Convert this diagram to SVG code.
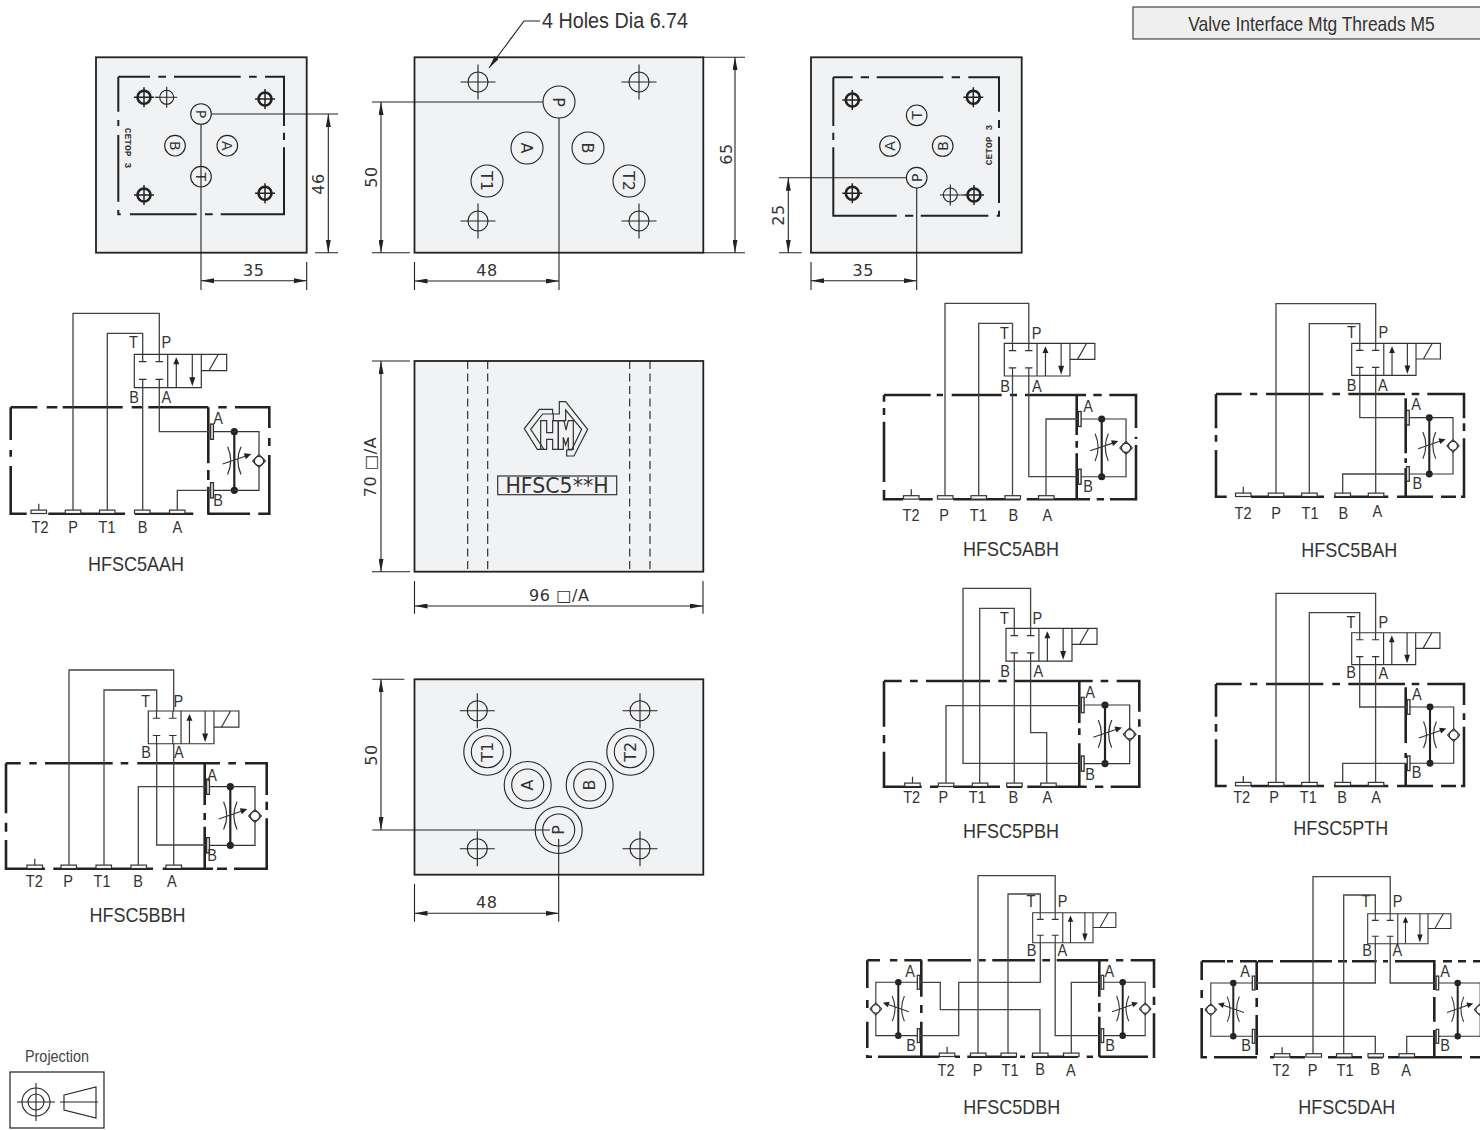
<svg xmlns="http://www.w3.org/2000/svg" width="1480" height="1130" viewBox="0 0 1480 1130">
<style>
text{font-family:"Liberation Sans",Arial,sans-serif;fill:#333;text-anchor:middle}
.l{font-size:16.5px;transform-box:fill-box;transform-origin:center;transform:scaleX(.88)}
.t{font-size:20px;transform-box:fill-box;transform-origin:center;transform:scaleX(.9)}
.b{font-size:19.4px;transform-box:fill-box;transform-origin:center;transform:scaleX(.9)}
.n{font-size:22px;transform-box:fill-box;transform-origin:center;transform:scaleX(.9)}
.j{font-size:16px;fill:#444;transform-box:fill-box;transform-origin:center;transform:scaleX(.9)}
.d{font-family:"DejaVu Sans",sans-serif;font-size:16px;fill:#333;letter-spacing:.6px}
.c{font-family:"DejaVu Sans",sans-serif;font-size:16px}
.cs{font-family:"DejaVu Sans",sans-serif;font-size:14px}
.ce{font-family:"Liberation Mono",monospace;font-size:9.6px;font-weight:bold}
.pl{fill:#f1f2f4;stroke:#222;stroke-width:1.8}
.in{fill:none;stroke:#222;stroke-width:2}
.dm{fill:none;stroke:#222;stroke-width:1.1}
.h{fill:none;stroke:#222;stroke-width:2.6}
.w{fill:none;stroke:#444;stroke-width:1.3}
.p{fill:#fff;stroke:#333;stroke-width:1.2}
.o{fill:none;stroke:#333;stroke-width:1.2}
.k{fill:#222;stroke:none}
</style>
<defs>
<marker id="ar" viewBox="0 0 13 5" refX="13" refY="2.5" markerWidth="13" markerHeight="5" markerUnits="userSpaceOnUse" orient="auto-start-reverse"><path d="M0 0L13 2.5L0 5Z" fill="#222"/></marker>
<g id="hh"><circle r="6.5" fill="none" stroke="#222" stroke-width="2.6"/><path d="M-10 0H10M0-10V10" class="dm" style="stroke-width:1.5"/></g>
<g id="hs"><circle r="7" fill="none" stroke="#222" stroke-width="1.1"/><path d="M-10.5 0H10.5M0-10.5V10.5" class="dm"/></g>
<g id="ht"><circle r="10" fill="none" stroke="#222" stroke-width="1.1"/><path d="M-17.5 0H17.5M0-17.5V17.5" class="dm"/></g>
<g id="valve">
<path class="o" d="M0 0H67V33.4H0ZM33.4 0V33.4M67 0H92.4V16.4H67M74.7 16.4L84 0"/>
<path class="o" d="M8.4 0V7.4M4.6 7.4H12.2M25 0V7.4M21.2 7.4H28.8M8.4 33.4V25M4.6 25H12.2M25 33.4V25M21.2 25H28.8M42 33.4V8M58 0V24"/>
<path class="k" d="M42 3L45 10H39ZM58 32L61 23H55Z"/>
</g>
<g id="fc">
<circle class="k" cx="0" cy="0" r="3.6"/><circle class="k" cx="0" cy="58.6" r="3.6"/>
<path d="M0 0V58.6" stroke="#222" stroke-width="2.2" fill="none"/>
<path class="o" d="M-21 0H24.7V23M24.7 35.5V58.6H-21M-6.7 15Q-.5 29-6.7 42.7M6.7 15Q.5 29 6.7 42.7M-11.7 32.3L11 24.5"/>
<path class="k" d="M17 22.4L9.5 21.5L11.5 27.5Z"/>
<rect class="p" x="-23.7" y="-7.6" width="2.8" height="15.2" style="stroke-width:1.4"/>
<rect class="p" x="-23.7" y="51" width="2.8" height="15.2" style="stroke-width:1.4"/>
<circle cx="24.7" cy="29.3" r="4.6" fill="#fff" stroke="#333" stroke-width="1.2"/>
<path class="o" d="M18.2 29.3L24.7 35.8L31.2 29.3M18.2 29.3L24.7 22.8L31.2 29.3"/>
</g>
<g id="pt"><rect class="p" x="0" y="-3.6" width="15.5" height="3.4"/></g>
<g id="pT"><rect class="p" x="0" y="-3.6" width="15.5" height="3.4"/><path class="o" d="M7.8 -3.6V-10"/></g>
</defs>

<rect x="0" y="0" width="1480" height="1130" fill="#fff"/>

<g id="banner">
<rect x="1133" y="7" width="350" height="32" fill="#efefef" stroke="#333" stroke-width="1.1"/>
<text class="b" x="1311.5" y="31">Valve Interface Mtg Threads M5</text>
</g>

<g id="plate-left">
<rect class="pl" x="96" y="57.3" width="210.7" height="195.4"/>
<path class="in" d="M118.3 76.7H150M158.3 76.7H166M174 76.7H240.7M249 76.7H256.7M265 76.7H284V126M284 132.7V140M284 147.3V214.3H220.7M212.7 214.3H205M196.7 214.3H130M120.7 214.3H118.3V210M118.3 201.7V135M118.3 126V120M118.3 111.7V76.7"/>
<use href="#hh" x="144" y="97.3"/><use href="#hs" x="166.7" y="97.3"/><use href="#hh" x="265" y="99"/><use href="#hh" x="144" y="195"/><use href="#hh" x="265" y="193.3"/>
<path class="dm" d="M155 97.3H158"/>
<g fill="none" stroke="#222" stroke-width="1.1"><circle cx="201" cy="114" r="10.3"/><circle cx="175" cy="145.7" r="10.3"/><circle cx="227.3" cy="145.7" r="10.3"/><circle cx="201" cy="176.7" r="10.3"/></g>
<text class="cs" transform="translate(201,114) rotate(90)" dy=".36em">P</text>
<text class="cs" transform="translate(175,145.7) rotate(90)" dy=".36em">B</text>
<text class="cs" transform="translate(227.3,145.7) rotate(90)" dy=".36em">A</text>
<text class="cs" transform="translate(201,176.7) rotate(90)" dy=".36em">T</text>
<text class="ce" transform="translate(127.7,148) rotate(90)" dy=".3em">CETOP 3</text>
<path class="dm" d="M211.3 114H338M315 252.7H338M201 124.3V290M306.7 262V290"/>
<path class="dm" d="M328.3 114V252.7" marker-start="url(#ar)" marker-end="url(#ar)"/>
<path class="dm" d="M201 280.7H306.7" marker-start="url(#ar)" marker-end="url(#ar)"/>
<text class="d" transform="rotate(-90 323.5 184)" x="323.5" y="184">46</text>
<text class="d" x="253.7" y="276">35</text>
</g>

<g id="plate-top">
<rect class="pl" x="414.5" y="57.3" width="288.8" height="195.4"/>
<use href="#ht" x="478" y="82"/><use href="#ht" x="639" y="82"/><use href="#ht" x="478" y="221"/><use href="#ht" x="639" y="221"/>
<g fill="none" stroke="#222" stroke-width="1.1"><circle cx="559" cy="102" r="16"/><circle cx="527" cy="148" r="16"/><circle cx="588" cy="148" r="16"/><circle cx="487" cy="181" r="16"/><circle cx="629" cy="181" r="16"/></g>
<text class="c" transform="translate(559,102) rotate(90)" dy=".36em">P</text>
<text class="c" transform="translate(527,148) rotate(90)" dy=".36em">A</text>
<text class="c" transform="translate(588,148) rotate(90)" dy=".36em">B</text>
<text class="c" transform="translate(487,181) rotate(90)" dy=".36em">T1</text>
<text class="c" transform="translate(629,181) rotate(90)" dy=".36em">T2</text>
<path class="dm" d="M372 102H543M372 252.7H410M559 118V290M414.5 262V290M703 57.3H745M703 252.7H745"/>
<path class="dm" d="M381 102V252.7" marker-start="url(#ar)" marker-end="url(#ar)"/>
<path class="dm" d="M735 57.3V252.7" marker-start="url(#ar)" marker-end="url(#ar)"/>
<path class="dm" d="M414.5 281H559" marker-start="url(#ar)" marker-end="url(#ar)"/>
<path class="dm" d="M540 21H524L489 68" marker-end="url(#ar)"/>
<text class="n" x="615" y="28.5">4 Holes Dia 6.74</text>
<text class="d" transform="rotate(-90 377 177)" x="377" y="177">50</text>
<text class="d" transform="rotate(-90 732 154)" x="732" y="154">65</text>
<text class="d" x="487" y="276">48</text>
</g>

<g id="plate-right">
<rect class="pl" x="811" y="57.3" width="210.7" height="195.4"/>
<path class="in" d="M833.3 77.3H852.7M860.7 77.3H869M876.7 77.3H943.3M951.7 77.3H960M968.3 77.3H999V111.7M999 120V128M999 136.7V203M999 210.7V215.7H996.7M988.3 215.7H920.7M913.3 215.7H905M896.7 215.7H833.3V147.3M833.3 140V132.7M833.3 126V77.3"/>
<use href="#hh" x="852.3" y="100"/><use href="#hh" x="973.3" y="97.3"/><use href="#hh" x="852.3" y="193.3"/><use href="#hh" x="974" y="195"/><use href="#hs" x="950.3" y="195"/>
<path class="dm" d="M961 195H964"/>
<g fill="none" stroke="#222" stroke-width="1.1"><circle cx="916.7" cy="115.3" r="10.3"/><circle cx="890" cy="146" r="10.3"/><circle cx="942.7" cy="146" r="10.3"/><circle cx="916.7" cy="177.7" r="10.3"/></g>
<text class="cs" transform="translate(916.7,115.3) rotate(-90)" dy=".36em">T</text>
<text class="cs" transform="translate(890,146) rotate(-90)" dy=".36em">A</text>
<text class="cs" transform="translate(942.7,146) rotate(-90)" dy=".36em">B</text>
<text class="cs" transform="translate(916.7,177.7) rotate(-90)" dy=".36em">P</text>
<text class="ce" transform="translate(989,145) rotate(-90)" dy=".3em">CETOP 3</text>
<path class="dm" d="M779 177.7H906.4M779 252.7H801.7M916.7 188V290M811 262V290"/>
<path class="dm" d="M788.3 177.7V252.7" marker-start="url(#ar)" marker-end="url(#ar)"/>
<path class="dm" d="M811 280.7H916.7" marker-start="url(#ar)" marker-end="url(#ar)"/>
<text class="d" transform="rotate(-90 784 215)" x="784" y="215">25</text>
<text class="d" x="863.3" y="276">35</text>
</g>

<g id="plate-mid">
<rect class="pl" x="414.5" y="361" width="288.8" height="210.7"/>
<path class="dm" stroke-dasharray="8 4.5" d="M467.7 361V571.7M487.7 361V571.7M629.7 361V571.7M650 361V571.7"/>
<g transform="translate(400,350) scale(.3333)" fill="none" stroke="#333" stroke-width="3.6">
<path d="M458 178H418L373 236L412 298H432L392 238L428 192H458Z"/>
<path d="M460 192H478V155H497L563 238L522 318H500V300H515L545 238L497 180V212H460Z"/>
<path d="M422 212H440V248H458V212H475V298H458V268H440V298H422Z"/>
<path d="M475 212H492L498 240L505 212H520V298H505V262L497 285L490 262V298H475Z"/>
</g>
<rect x="497.7" y="476" width="119" height="18.7" fill="none" stroke="#333" stroke-width="1.2"/>
<text x="557" y="492.7" style='font-family:"DejaVu Sans",sans-serif;font-size:20.5px'>HFSC5**H</text>
<path class="dm" d="M372 361H410M372 571.7H410M414.5 581V613.7M703 581V613.7"/>
<path class="dm" d="M381 361V571.7" marker-start="url(#ar)" marker-end="url(#ar)"/>
<path class="dm" d="M414.5 606H703" marker-start="url(#ar)" marker-end="url(#ar)"/>
<text class="d" transform="rotate(-90 376 467)" x="376" y="467">70 □/A</text>
<text class="d" x="559.3" y="600.7">96 □/A</text>
</g>

<g id="plate-bottom">
<rect class="pl" x="414.5" y="679.3" width="288.8" height="195.4"/>
<use href="#ht" x="477.3" y="710.7"/><use href="#ht" x="640" y="710.7"/><use href="#ht" x="477.3" y="848.7"/><use href="#ht" x="640" y="848.7"/>
<g fill="none" stroke="#222" stroke-width="1.1">
<circle cx="487.3" cy="751.7" r="23.5"/><circle cx="487.3" cy="751.7" r="16"/>
<circle cx="527.7" cy="785" r="23.5"/><circle cx="527.7" cy="785" r="16"/>
<circle cx="589.7" cy="785" r="23.5"/><circle cx="589.7" cy="785" r="16"/>
<circle cx="630.3" cy="751.7" r="23.5"/><circle cx="630.3" cy="751.7" r="16"/>
<circle cx="558.7" cy="830" r="23.5"/><circle cx="558.7" cy="830" r="16"/>
</g>
<text class="c" transform="translate(487.3,751.7) rotate(-90)" dy=".36em">T1</text>
<text class="c" transform="translate(527.7,785) rotate(-90)" dy=".36em">A</text>
<text class="c" transform="translate(589.7,785) rotate(-90)" dy=".36em">B</text>
<text class="c" transform="translate(630.3,751.7) rotate(-90)" dy=".36em">T2</text>
<text class="c" transform="translate(558.7,830) rotate(-90)" dy=".36em">P</text>
<path class="dm" d="M372.3 830H550M372.3 679.3H404.3M558.7 839V921.7M414.5 884V921.7"/>
<path class="dm" d="M381 679.3V830" marker-start="url(#ar)" marker-end="url(#ar)"/>
<path class="dm" d="M414.5 913.3H558.7" marker-start="url(#ar)" marker-end="url(#ar)"/>
<text class="d" transform="rotate(-90 376.7 755)" x="376.7" y="755">50</text>
<text class="d" x="486.7" y="908">48</text>
</g>

<g id="projection">
<text class="j" x="57" y="1062">Projection</text>
<rect x="10" y="1072" width="94" height="56" fill="none" stroke="#222" stroke-width="1.2"/>
<g fill="none" stroke="#222" stroke-width="1.1"><circle cx="36" cy="1102" r="14"/><circle cx="36" cy="1102" r="8"/><path d="M17 1102H55M36 1083V1121"/><path d="M64 1095L96 1087V1118L64 1110ZM60 1102H98"/></g>
</g>

<g id="HFSC5AAH">
<path class="h" d="M10.7 407.3H37.3M46.7 407.3H57.3M62.7 407.3H122.7M131.7 407.3H142.3M148.3 407.3H208.3M218.3 407.3H226.7M235 407.3H269.3V428M269.3 438V446M269.3 455V513.7H258.3M250 513.7H207.3M193.3 513.7H135M125 513.7H48.3M26.7 513.7H10.7V466M10.7 456.7V450M10.7 440V407.3M208.3 407.3V463.3M208.3 470V480M208.3 486.7V513.7"/>
<use href="#valve" x="134.3" y="354.3"/>
<use href="#fc" x="234.3" y="431.7"/>
<use href="#pT" x="31" y="513.7"/><use href="#pt" x="65.3" y="513.7"/><use href="#pt" x="99.5" y="513.7"/><use href="#pt" x="134.5" y="513.7"/><use href="#pt" x="169.5" y="513.7"/>
<text class="l" x="133.3" y="348.3">T</text><text class="l" x="166.3" y="348.3">P</text><text class="l" x="134" y="402.7">B</text><text class="l" x="166.3" y="402.7">A</text>
<text class="l" x="218" y="424">A</text><text class="l" x="218" y="506">B</text>
<text class="l" x="40" y="532.7">T2</text><text class="l" x="73" y="532.7">P</text><text class="l" x="107" y="532.7">T1</text><text class="l" x="142.7" y="532.7">B</text><text class="l" x="177.3" y="532.7">A</text>
<text class="t" x="136" y="571">HFSC5AAH</text>
</g>

<g id="HFSC5BBH">
<path class="h" d="M6 763.3H20.7M29.3 763.3H36.7M45 763.3H112.7M120.7 763.3H128.3M137.3 763.3H220M228.3 763.3H236M245 763.3H266.7V795M266.7 801.7V810M266.7 818.3V868.7H234M227 868.7H217M213 868.7H162.7M153 868.7H53.3M45 868.7H6V840M6 831.7V822.7M6 813.3V763.3M204.7 763.3V805M204.7 813V820M204.7 826.7V868.7"/>
<use href="#valve" transform="translate(148.3,711) scale(.98)"/>
<use href="#fc" x="230.3" y="786.7"/>
<use href="#pT" x="27" y="868.7"/><use href="#pt" x="61" y="868.7"/><use href="#pt" x="96" y="868.7"/><use href="#pt" x="131" y="868.7"/><use href="#pt" x="166" y="868.7"/>
<text class="l" x="145.7" y="706.7">T</text><text class="l" x="178.3" y="706.7">P</text><text class="l" x="146" y="757.7">B</text><text class="l" x="178.7" y="757.7">A</text>
<text class="l" x="212" y="780.7">A</text><text class="l" x="212" y="860.7">B</text>
<text class="l" x="34.3" y="886.7">T2</text><text class="l" x="68" y="886.7">P</text><text class="l" x="102" y="886.7">T1</text><text class="l" x="138" y="886.7">B</text><text class="l" x="171.7" y="886.7">A</text>
<text class="t" x="137.5" y="922">HFSC5BBH</text>
</g>

<g id="HFSC5ABH">
<path class="h" d="M884 395H930.7M936.7 395H943M951.7 395H1001.7M1010 395H1017M1025 395H1086M1093.3 395H1101.7M1109.3 395H1136V428M1136 436.7V439M1136 445V499.3H1110M1104 499.3H1096.7M1090 499.3H1026.7M1020 499.3H953.3M932.7 499.3H919.3M903 499.3H884V490M884 482V421.7M884 415V408M884 401.7V395M1076.7 395V435M1076.7 441V447.7M1076.7 453.3V499.3"/>
<use href="#valve" transform="translate(1004.3,343.3) scale(.98)"/>
<use href="#fc" transform="translate(1101.7,419) scale(.985)"/>
<use href="#pT" x="903.5" y="499.3"/><use href="#pt" x="937.5" y="499.3"/><use href="#pt" x="971" y="499.3"/><use href="#pt" x="1005" y="499.3"/><use href="#pt" x="1038.5" y="499.3"/>
<text class="l" x="1004.3" y="339.3">T</text><text class="l" x="1036.7" y="339.3">P</text><text class="l" x="1005" y="391.7">B</text><text class="l" x="1036.7" y="391.7">A</text>
<text class="l" x="1088" y="411.7">A</text><text class="l" x="1088" y="491.7">B</text>
<text class="l" x="911" y="520.7">T2</text><text class="l" x="944" y="520.7">P</text><text class="l" x="978.3" y="520.7">T1</text><text class="l" x="1013.3" y="520.7">B</text><text class="l" x="1047.3" y="520.7">A</text>
<text class="t" x="1011" y="556">HFSC5ABH</text>
</g>

<g id="HFSC5BAH">
<path class="h" d="M1216 394H1241.7M1250 394H1257.3M1266 394H1323.3M1332.3 394H1340M1348.3 394H1405M1411.7 394H1419.3M1427.3 394H1464V418.3M1464 423.3V431M1464 438.3V496.7H1461M1456 496.7H1441M1433 496.7H1397M1388.3 496.7H1334M1324 496.7H1251M1226.7 496.7H1216V450M1216 441.7V435M1216 428.3V394M1405.7 398.3V453.3M1405.7 458.3V463M1405.7 468V496.7"/>
<use href="#valve" transform="translate(1351.7,343.3) scale(.96)"/>
<use href="#fc" transform="translate(1429.3,417.7) scale(.96)"/>
<use href="#pT" x="1235.5" y="496.7"/><use href="#pt" x="1268.3" y="496.7"/><use href="#pt" x="1301.7" y="496.7"/><use href="#pt" x="1335" y="496.7"/><use href="#pt" x="1368.3" y="496.7"/>
<text class="l" x="1351.3" y="338.3">T</text><text class="l" x="1383.3" y="338.3">P</text><text class="l" x="1351.7" y="391">B</text><text class="l" x="1382.7" y="391">A</text>
<text class="l" x="1416" y="410">A</text><text class="l" x="1417.3" y="489">B</text>
<text class="l" x="1243" y="519">T2</text><text class="l" x="1276" y="519">P</text><text class="l" x="1310" y="519">T1</text><text class="l" x="1343.3" y="519">B</text><text class="l" x="1377.3" y="516.7">A</text>
<text class="t" x="1349.3" y="557">HFSC5BAH</text>
</g>

<g id="HFSC5PBH">
<path class="h" d="M884 681H901.7M910 681H917.7M926 681H990M998.3 681H1006.7M1015 681H1092.7M1100.7 681H1108.3M1116.7 681H1139.3V711.7M1139.3 719.3V726.7M1139.3 735V786.7H1110.7M1103.3 786.7H1095M1086.7 786.7H1027.3M1022 786.7H1006.7M1000 786.7H953.3M938 786.7H930M921.7 786.7H884V751.7M884 743.3V735M884 726.7V681M1079.3 681V723M1079.3 728.3V735M1079.3 743.3V786.7"/>
<use href="#valve" transform="translate(1006,628.3) scale(.985)"/>
<use href="#fc" x="1105" y="705"/>
<use href="#pT" x="904.7" y="786.7"/><use href="#pt" x="938.3" y="786.7"/><use href="#pt" x="972.3" y="786.7"/><use href="#pt" x="1006.7" y="786.7"/><use href="#pt" x="1040.7" y="786.7"/>
<text class="l" x="1004.3" y="624.3">T</text><text class="l" x="1037.3" y="624.3">P</text><text class="l" x="1005" y="676.7">B</text><text class="l" x="1038.3" y="676.7">A</text>
<text class="l" x="1090" y="698.3">A</text><text class="l" x="1090" y="780">B</text>
<text class="l" x="911.7" y="803.3">T2</text><text class="l" x="943.3" y="803.3">P</text><text class="l" x="977.3" y="803.3">T1</text><text class="l" x="1013.3" y="803.3">B</text><text class="l" x="1047.3" y="803.3">A</text>
<text class="t" x="1011" y="838">HFSC5PBH</text>
</g>

<g id="HFSC5PTH">
<path class="h" d="M1216 684H1241.7M1250 684H1257.3M1266 684H1323.3M1332.3 684H1340M1348.3 684H1405M1411.7 684H1419.3M1427.3 684H1464V705M1464 713.3V720M1464 726.7V786H1461M1456 786H1441M1433 786H1397M1388.3 786H1334M1324 786H1251M1226.7 786H1216V739.3M1216 731.7V724M1216 716.7V684M1405.7 687.3V743M1405.7 753V758M1405.7 763V786"/>
<use href="#valve" transform="translate(1351.7,632.7) scale(.955)"/>
<use href="#fc" transform="translate(1430,707) scale(.96)"/>
<use href="#pT" x="1235.5" y="786"/><use href="#pt" x="1268.3" y="786"/><use href="#pt" x="1301.7" y="786"/><use href="#pt" x="1335" y="786"/><use href="#pt" x="1368.3" y="786"/>
<text class="l" x="1351" y="628.3">T</text><text class="l" x="1383.3" y="628.3">P</text><text class="l" x="1351" y="678.3">B</text><text class="l" x="1383.3" y="679.3">A</text>
<text class="l" x="1416.7" y="700">A</text><text class="l" x="1416.7" y="778.3">B</text>
<text class="l" x="1241.7" y="802.7">T2</text><text class="l" x="1274" y="802.7">P</text><text class="l" x="1308.3" y="802.7">T1</text><text class="l" x="1342" y="802.7">B</text><text class="l" x="1376" y="802.7">A</text>
<text class="t" x="1340.7" y="835">HFSC5PTH</text>
</g>

<g id="HFSC5DBH">
<path class="h" d="M867.3 960.3H880M890 960.3H897.3M904.3 960.3H921.7M927.7 960.3H971M979 960.3H985.7M992.3 960.3H1035M1042.3 960.3H1050M1056.7 960.3H1108.3M1116 960.3H1123.3M1130.7 960.3H1154V988M1154 996.7V1005M1154 1013.3V1056.7H1152.7M1148 1056.7H1099.3M1093 1056.7H1086.7M1078 1056.7H1031.7M1025 1056.7H1020M1016.7 1056.7H967.3M960 1056.7H955M939.3 1056.7H878M872 1056.7H867.3V1055M867.3 1048V1021.7M867.3 1008V1000M867.3 988V960.3M921.3 960.3V996.7M921.3 1005V1013M921.3 1021.7V1056.7M1099.3 960.3V996.7M1099.3 1003V1011.7M1099.3 1016.7V1056.7"/>
<use href="#valve" transform="translate(1032.7,912.7) scale(.9)"/>
<use href="#fc" transform="translate(898.3,982.3) scale(-.91,.91)"/>
<use href="#fc" transform="translate(1122.7,982.3) scale(.91)"/>
<use href="#pT" x="939.3" y="1056.7"/><use href="#pt" x="970.5" y="1056.7"/><use href="#pt" x="1001" y="1056.7"/><use href="#pt" x="1032.5" y="1056.7"/><use href="#pt" x="1063.5" y="1056.7"/>
<text class="l" x="1031" y="906.7">T</text><text class="l" x="1062.7" y="906.7">P</text><text class="l" x="1031.7" y="956">B</text><text class="l" x="1062.3" y="956">A</text>
<text class="l" x="910" y="976.7">A</text><text class="l" x="911" y="1051">B</text><text class="l" x="1109.3" y="976.7">A</text><text class="l" x="1110" y="1051">B</text>
<text class="l" x="946" y="1076">T2</text><text class="l" x="977.7" y="1076">P</text><text class="l" x="1010" y="1076">T1</text><text class="l" x="1040" y="1075">B</text><text class="l" x="1070.7" y="1076">A</text>
<text class="t" x="1011.7" y="1114">HFSC5DBH</text>
</g>

<g id="HFSC5DAH">
<path class="h" d="M1201.7 961.3H1225M1227 961.3H1233M1240 961.3H1256.7M1258 961.3H1273M1280 961.3H1332M1338 961.3H1347M1352 961.3H1376.7M1383 961.3H1388M1395 961.3H1434.3V990M1434.3 997V1021.7M1434.3 1030V1057.3H1425M1434.3 1057.3H1462M1470 1057.3H1480M1443 961.3H1452M1458 961.3H1466M1473 961.3H1480M1388 1057.3H1425M1383 1057.3H1368M1362 1057.3H1328M1305 1057.3H1290M1274 1057.3H1270M1257 1057.3H1214M1207 1057.3H1201.7V1008M1201.7 998V990M1201.7 980V961.3M1256.7 961.3V990M1256.7 998V1007M1256.7 1015V1055"/>
<use href="#valve" transform="translate(1367.7,913.7) scale(.9)"/>
<use href="#fc" transform="translate(1233.3,983) scale(-.91,.91)"/>
<use href="#fc" transform="translate(1457.7,983) scale(.91)"/>
<use href="#pT" x="1274.3" y="1057.3"/><use href="#pt" x="1306" y="1057.3"/><use href="#pt" x="1336.5" y="1057.3"/><use href="#pt" x="1368" y="1057.3"/><use href="#pt" x="1399" y="1057.3"/>
<text class="l" x="1366" y="906.7">T</text><text class="l" x="1397.7" y="906.7">P</text><text class="l" x="1367" y="955.7">B</text><text class="l" x="1397.3" y="955.7">A</text>
<text class="l" x="1245" y="976.7">A</text><text class="l" x="1246" y="1051">B</text><text class="l" x="1445" y="976.7">A</text><text class="l" x="1445" y="1051">B</text>
<text class="l" x="1281" y="1076">T2</text><text class="l" x="1312.7" y="1076">P</text><text class="l" x="1345" y="1076">T1</text><text class="l" x="1375" y="1075">B</text><text class="l" x="1406" y="1076">A</text>
<text class="t" x="1346.7" y="1114">HFSC5DAH</text>
</g>

<g id="connectors" class="w">
<path d="M73 510V313.3H159.3V354.3M107.3 510V333.3H142.7V354.3M142.7 387.7V510M159.3 387.7V431.7H210.7M177.3 510V490.3H210.7"/>
<path d="M69 865V670H173.7V711M104 865V690H156.7V711M156.7 743.3V845H206.6M173.7 743.3V865M138.3 865V786.7H206.6"/>
<path d="M945 495.7V303.3H1028.8V343.3M978.7 495.7V323.3H1012.5V343.3M1012.5 375.7V495.7M1028.8 375.7V476.7H1078.4M1046 495.7V419H1078.4"/>
<path d="M1276 493.3V303.7H1375.7V343.3M1309.3 493.3V323.7H1359.8V343.3M1359.8 375.3V417.7H1406.6M1375.7 375.3V493.3M1342.7 493.3V474H1406.6"/>
<path d="M1081.3 763.3H963V588.3H1030.6V628.3M979.7 783V608.3H1014.3V628.3M1014.3 661.2V783M1030.6 661.2V732.7H1046.7V783M946 783V705.7H1081.3"/>
<path d="M1276 782.5V593.3H1375.6V632.7M1309.3 782.5V612.7H1359.7V632.7M1359.7 664.6V707H1407M1375.6 664.6V782.5M1342.7 782.5V763.3H1407"/>
<path d="M978 1053V875.7H1055.2V912.7M1008 1053V894H1040.3V912.7M1040.3 942.7V982.3H958.7V1035.7H920M1055.2 942.7V1035.7H1101M1040 1053V1009.7H940.3V982.3H920M1071.3 1053V982.3H1101"/>
<path d="M1313 1054V876.7H1390.2V913.7M1343.7 1054V895H1375.3V913.7M1375.3 943.7V983H1255M1390.2 943.7V983H1436M1375.3 1054V1036.3H1255M1406.7 1054V1036.3H1436"/>
</g>
</svg>
